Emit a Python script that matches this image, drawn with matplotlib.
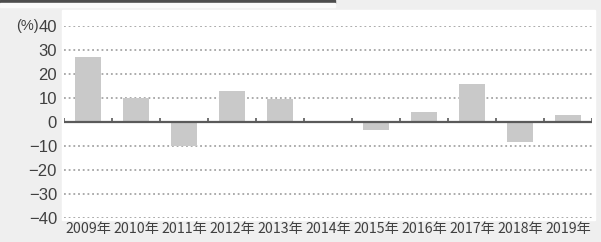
import matplotlib
matplotlib.use("Agg")
import matplotlib.pyplot as plt
from matplotlib.patches import Rectangle
import numpy as np

years = ["2009年", "2010年", "2011年", "2012年", "2013年", "2014年",
         "2015年", "2016年", "2017年", "2018年", "2019年"]
values = [27, 10, -10, 13, 9.5, 0.3, -3.5, 4, 16, -8.5, 3]
yticks = [40, 30, 20, 10, 0, -10, -20, -30, -40]

W, H = 601, 242
fig = plt.figure(figsize=(W / 100, H / 100), dpi=100)
fig.patch.set_facecolor("#efefef")

def px(x0, y0, w, h, **kw):
    fig.patches.append(Rectangle((x0 / W, 1 - (y0 + h) / H), w / W, h / H,
                                 transform=fig.transFigure, zorder=-5, **kw))

# top dark bar and white plot background
px(0, 0, 335, 3, color="#4d4d4d")
px(0, 3, 335, 4, color="#fafafa")
px(62, 10, 533, 210, color="white")

left, right = 64, 592
top, bottom = 26, 218
ax = fig.add_axes([left / W, 1 - bottom / H, (right - left) / W, (bottom - top) / H])
ax.set_facecolor("none")
ax.set_xlim(-0.5, len(years) - 0.5)
ax.set_ylim(-40, 40)

for v in yticks:
    if v != 0:
        ax.axhline(v, color="#a5a5a5", lw=1.3, ls=(0, (1.0, 1.6)), zorder=1)

x = np.arange(len(years))
ax.bar(x, values, width=0.56, color="#c9c9c9", zorder=2)
ax.axhline(0, color="#5a5a5a", lw=1.6, zorder=3)
bounds = np.arange(len(years) + 1) - 0.5
ax.vlines(bounds, 0, 1.6, color="#5a5a5a", lw=1.2, zorder=3)

for s in ax.spines.values():
    s.set_visible(False)

ax.set_yticks(yticks)
ax.set_yticklabels([str(v).replace("-", "\u2212") for v in yticks],
                   fontsize=12, color="#404040", family=["Liberation Sans"])
ax.tick_params(axis="y", length=0, pad=5)
ax.set_xticks(x)
ax.set_xticklabels(years, fontsize=10.2, color="#404040",
                   family=["Noto Sans CJK JP", "DejaVu Sans"])
ax.tick_params(axis="x", length=0, pad=3)

fig.text(39 / W, 1 - 26 / H, "(%)", ha="right", va="center", fontsize=10.5,
         color="#404040", family=["Liberation Sans"])

fig.savefig("out.png", dpi=100, facecolor=fig.get_facecolor())
